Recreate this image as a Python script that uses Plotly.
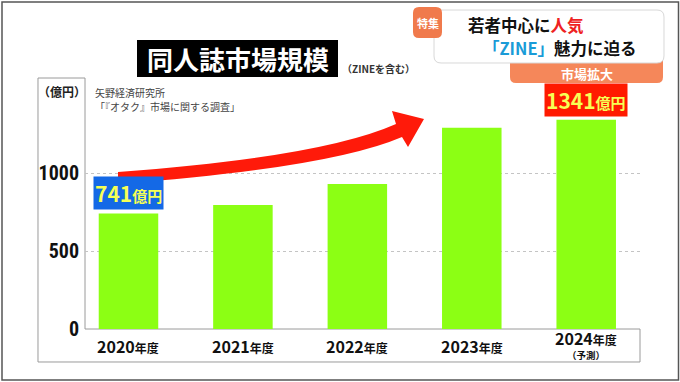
import plotly.graph_objects as go

W, H = 680, 382

# ---- data ----
years = ["2020", "2021", "2022", "2023", "2024"]
year_suffix = "年度"
forecast_note = ["", "", "", "", "（予測）"]
values = [741, 795, 930, 1290, 1341]
y_ticks = [0, 500, 1000]
y_ticktext = ["0", "500", "1000"]
unit_label = "（億円）"
value_unit = "億円"
callouts = {0: "#1469e6", 4: "#ff1a00"}  # index -> box colour

title = "同人誌市場規模"
subtitle = "（ZINEを含む）"
source_lines = ["矢野経済研究所", "「『オタク』市場に関する調査」"]

FONT = "Noto Sans CJK JP, Noto Sans, sans-serif"
NUM_FONT = "Liberation Sans Narrow, Roboto Condensed, Liberation Sans, sans-serif"


def px(x):
    return x / W


def py(y):
    return 1 - y / H


def pt(x, y):
    return f"{px(x):.5f},{py(y):.5f}"


def rounded_rect(x0, y0, x1, y1, r):
    return (f"M {pt(x0 + r, y0)} L {pt(x1 - r, y0)} Q {pt(x1, y0)} {pt(x1, y0 + r)} "
            f"L {pt(x1, y1 - r)} Q {pt(x1, y1)} {pt(x1 - r, y1)} "
            f"L {pt(x0 + r, y1)} Q {pt(x0, y1)} {pt(x0, y1 - r)} "
            f"L {pt(x0, y0 + r)} Q {pt(x0, y0)} {pt(x0 + r, y0)} Z")


def txt(x, y, text, size, color, family=FONT, xanchor="center"):
    return dict(xref="paper", yref="paper", x=px(x), y=py(y), text=text,
                showarrow=False, font=dict(family=family, size=size, color=color),
                xanchor=xanchor, yanchor="middle")


fig = go.Figure()
fig.add_trace(go.Bar(
    x=years, y=values, width=0.52,
    marker=dict(color="#8cff14", line=dict(width=0)),
    hoverinfo="skip",
))

shapes = []
# outer border of picture
shapes.append(dict(type="rect", xref="paper", yref="paper",
                   x0=px(2), x1=px(678.5), y0=py(380), y1=py(2),
                   line=dict(color="#555", width=1.5), layer="below"))
# L-shaped frame around axis labels
frame = (f"M {pt(38, 78)} L {pt(85, 78)} L {pt(85, 329)} L {pt(640, 329)} "
         f"L {pt(640, 362)} L {pt(38, 362)} Z")
shapes.append(dict(type="path", xref="paper", yref="paper", path=frame,
                   line=dict(color="#9a9a9a", width=1), layer="below"))
# title box
shapes.append(dict(type="rect", xref="paper", yref="paper",
                   x0=px(137), x1=px(338), y0=py(77), y1=py(40),
                   fillcolor="#000", line=dict(width=0), layer="above"))
# arrow
arrow = (f"M {pt(118, 172)} Q {pt(322, 157)} {pt(396, 124)} L {pt(392, 111)} "
         f"L {pt(424, 119)} L {pt(408, 147)} L {pt(402, 137)} "
         f"Q {pt(330, 168)} {pt(118, 184)} Z")
shapes.append(dict(type="path", xref="paper", yref="paper", path=arrow,
                   fillcolor="#ff1a0a", line=dict(width=0), layer="above"))
# banner
shapes.append(dict(type="path", xref="paper", yref="paper",
                   path=rounded_rect(510, 52, 663, 83, 6),
                   fillcolor="#f5875a", line=dict(width=0), layer="above"))
shapes.append(dict(type="path", xref="paper", yref="paper",
                   path=rounded_rect(434, 10, 664, 63, 7),
                   fillcolor="#ffffff", line=dict(color="#d8d8d8", width=1), layer="above"))
shapes.append(dict(type="path", xref="paper", yref="paper",
                   path=rounded_rect(413, 7, 442, 38, 6),
                   fillcolor="#f07a4c", line=dict(width=0), layer="above"))

ann = []
ann.append(txt(237.5, 58.5, f"<b>{title}</b>", 26, "#fff"))
ann.append(txt(340, 69, f"<b>{subtitle}</b>", 10, "#333", xanchor="left"))
for i, line in enumerate(source_lines):
    ann.append(txt(93, 92 + 14 * i, line, 10, "#444", xanchor="left"))
ann.append(txt(62, 91, f"<b>{unit_label}</b>", 12, "#222"))
# x labels (centred in the label band)
for i, (yr, note) in enumerate(zip(years, forecast_note)):
    t = f"<b>{yr}<span style='font-size:12px'>{year_suffix}</span></b>"
    ycen = 338 if note else 346
    ann.append(dict(xref="x", yref="paper", x=i, y=py(ycen), text=t,
                    showarrow=False, font=dict(family=FONT, size=16, color="#111"),
                    xanchor="center", yanchor="middle"))
    if note:
        ann.append(dict(xref="x", yref="paper", x=i, y=py(355), text=f"<b>{note}</b>",
                        showarrow=False, font=dict(family=FONT, size=9.5, color="#111"),
                        xanchor="center", yanchor="middle"))
# value callouts
for i, col in callouts.items():
    ann.append(dict(xref="x", yref="y", x=i, y=values[i],
                    text=f"<b>{values[i]}<span style='font-size:15px'>{value_unit}</span></b>",
                    showarrow=False, xanchor="center", yanchor="bottom", yshift=3,
                    font=dict(family=FONT, size=21, color="#f6ff55"),
                    bgcolor=col, borderpad=1))
# banner texts
ann.append(txt(427.5, 22.5, "<b>特集</b>", 11, "#fff"))
ann.append(txt(526, 25, "<b>若者中心に<span style='color:#ee2222'>人気</span></b>", 16.5, "#111"))
ann.append(txt(560, 48, "<b><span style='color:#1a9bd7'>「ZINE」</span>魅力に迫る</b>", 16.5, "#111"))
ann.append(txt(587, 73, "<b>市場拡大</b>", 13, "#fff"))

fig.update_layout(
    width=W, height=H,
    margin=dict(l=0, r=0, t=0, b=0, pad=0, autoexpand=False),
    paper_bgcolor="#fff", plot_bgcolor="#fff",
    showlegend=False,
    font=dict(family=FONT),
    shapes=shapes, annotations=ann,
    xaxis=dict(type="category", domain=[px(85), px(640)], range=[-0.38, 4.47],
               showticklabels=False, showgrid=False, zeroline=False, showline=False,
               automargin=False, anchor="y"),
    yaxis=dict(domain=[py(329), py(79)], range=[0, 1603],
               tickvals=y_ticks, ticktext=y_ticktext, ticks="", ticklabelstandoff=5,
               tickfont=dict(family=NUM_FONT, size=20, color="#111", weight="bold"),
               showgrid=True, gridcolor="#c4c4c4", griddash="dot", gridwidth=1,
               zeroline=False, showline=False, automargin=False, anchor="x"),
)

post = (
    "var de=document.documentElement,b=document.body;"
    "[de,b].forEach(function(e){e.style.margin='0';e.style.padding='0';e.style.overflow='hidden';});"
)
fig.write_html("out.html", config={"displayModeBar": False, "staticPlot": True},
               post_script=post)
